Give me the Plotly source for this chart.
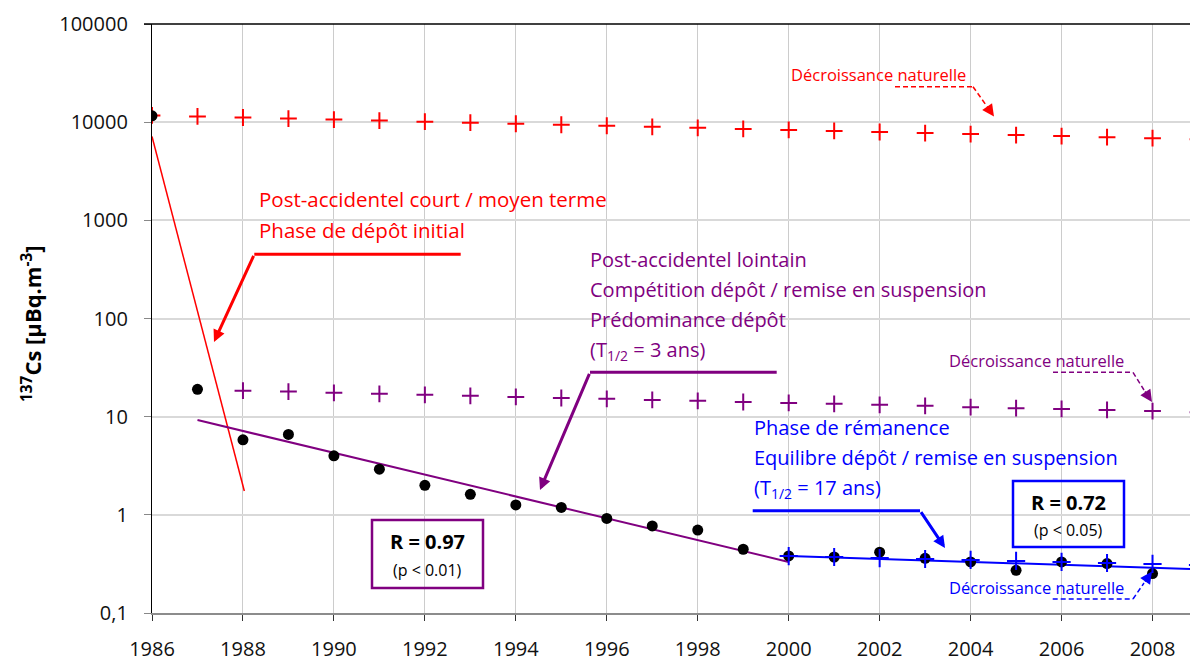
import plotly.graph_objects as go

# ---------------- data ----------------
years_meas = list(range(1986, 2010))
cs_meas = [11600, 19.0, 5.81, 6.6, 3.99, 2.92, 2.0, 1.62, 1.26, 1.19, 0.92, 0.77,
           0.70, 0.446, 0.381, 0.372, 0.416, 0.361, 0.331, 0.272, 0.331, 0.319,
           0.252, 0.324]

years_red_decay = list(range(1986, 2010))
red_decay = [11700, 11430, 11160, 10890, 10630, 10370, 10120, 9880, 9640, 9410,
             9190, 8970, 8750, 8540, 8340, 8140, 7940, 7750, 7570, 7380, 7210,
             7030, 6870, 6700]

years_purple_decay = list(range(1988, 2010))
purple_decay = [18.4, 18.0, 17.5, 17.1, 16.7, 16.3, 15.9, 15.5, 15.2, 14.8,
                14.5, 14.1, 13.8, 13.5, 13.2, 12.9, 12.5, 12.2, 12.0, 11.7, 11.4,
                11.1]

years_blue_decay = list(range(2000, 2010))
blue_decay = [0.380, 0.372, 0.363, 0.355, 0.347, 0.339, 0.331, 0.323, 0.316, 0.308]

red_fit_x = [1986, 1988.03]
red_fit_y = [7140, 1.75]
purple_fit_x = [1987, 2000]
purple_fit_y = [9.23, 0.331]
blue_fit_x = [2000, 2009]
blue_fit_y = [0.381, 0.279]

x_ticks = list(range(1986, 2009, 2))
y_ticks = [0.1, 1, 10, 100, 1000, 10000, 100000]
y_ticktext = ["0,1", "1", "10", "100", "1000", "10000", "100000"]

RED = "#ff0000"
PURPLE = "#800080"
BLUE = "#0000ff"
FONT = "Open Sans"

# ---------------- layout geometry ----------------
# The page body has an 8px margin, so the figure is drawn 8px right/down.
BODY = 8
WIDTH, HEIGHT = 1198 - BODY, 661 - BODY
SL, ST = 152, 24          # plot-area top-left on screen
W, H = 1046, 589          # plot-area size
L, T = SL - BODY, ST - BODY


def xp(px):
    return (px - SL) / W


def yp(py):
    return (ST + H - py) / H


fig = go.Figure()

# fit lines
fig.add_trace(go.Scatter(x=red_fit_x, y=red_fit_y, mode="lines",
                         line=dict(color=RED, width=1.5), hoverinfo="skip"))
fig.add_trace(go.Scatter(x=purple_fit_x, y=purple_fit_y, mode="lines",
                         line=dict(color=PURPLE, width=2), hoverinfo="skip"))
fig.add_trace(go.Scatter(x=blue_fit_x, y=blue_fit_y, mode="lines",
                         line=dict(color=BLUE, width=2), hoverinfo="skip"))

# decay crosses (red, purple)
fig.add_trace(go.Scatter(x=years_red_decay, y=red_decay, mode="markers",
                         marker=dict(symbol="cross-thin", size=12,
                                     line=dict(color=RED, width=2))))
fig.add_trace(go.Scatter(x=years_purple_decay, y=purple_decay, mode="markers",
                         marker=dict(symbol="cross-thin", size=12,
                                     line=dict(color=PURPLE, width=2))))
# measurements
fig.add_trace(go.Scatter(x=years_meas, y=cs_meas, mode="markers",
                         marker=dict(symbol="circle", size=11, color="black")))
# blue crosses on top
fig.add_trace(go.Scatter(x=years_blue_decay, y=blue_decay, mode="markers",
                         marker=dict(symbol="cross-thin", size=13,
                                     line=dict(color=BLUE, width=2))))

shapes = []
annotations = []


def seg(x0, y0, x1, y1, color, width, dash=None):
    d = dict(type="line", xref="paper", yref="paper",
             x0=xp(x0), x1=xp(x1), y0=yp(y0), y1=yp(y1),
             line=dict(color=color, width=width))
    if dash:
        d["line"]["dash"] = dash
    shapes.append(d)


def hline(x0, x1, y, color, width, dash=None):
    seg(x0, y, x1, y, color, width, dash)


def arrow(tailx, taily, tipx, tipy, color, width, size):
    annotations.append(dict(xref="paper", yref="paper", x=xp(tipx), y=yp(tipy),
                            ax=tailx - tipx, ay=taily - tipy,
                            axref="pixel", ayref="pixel", text="",
                            showarrow=True, arrowhead=2, arrowsize=size,
                            arrowwidth=width, arrowcolor=color, standoff=0,
                            startstandoff=0))


def text(px, py, s, color, size, anchor="left", yanchor="middle", bold=False):
    if bold:
        s = "<b>" + s + "</b>"
    annotations.append(dict(xref="paper", yref="paper", x=xp(px), y=yp(py),
                            text=s, showarrow=False, xanchor=anchor,
                            yanchor=yanchor,
                            font=dict(family=FONT, size=size, color=color)))


# top border line
shapes.append(dict(type="line", xref="paper", yref="paper", x0=xp(144), x1=1,
                   y0=1, y1=1, line=dict(color="black", width=1.5)))

# ---- red block ----
text(257, 183.5, "Post-accidentel court / moyen terme", RED, 20.5, yanchor="top")
text(257, 213.5, "Phase de dépôt initial", RED, 20.5, yanchor="top")
hline(254.3, 460.7, 254.3, RED, 3)
arrow(254.3, 254.3, 214, 342, RED, 3, 0.8)

# ---- purple block ----
text(588, 244, "Post-accidentel lointain", PURPLE, 20, yanchor="top")
text(588, 274, "Compétition dépôt / remise en suspension", PURPLE, 20, yanchor="top")
text(588, 304, "Prédominance dépôt", PURPLE, 20, yanchor="top")
text(588, 334, "(T<sub>1/2</sub> = 3 ans)", PURPLE, 20, yanchor="top")
hline(590, 776.7, 372.3, PURPLE, 3)
arrow(590, 372.3, 540, 490, PURPLE, 3, 0.8)

# ---- blue block ----
text(752, 411.5, "Phase de rémanence", BLUE, 20, yanchor="top")
text(752, 441.5, "Equilibre dépôt / remise en suspension", BLUE, 20, yanchor="top")
text(752, 472, "(T<sub>1/2</sub> = 17 ans)", BLUE, 20, yanchor="top")
hline(752.7, 920, 510.7, BLUE, 3)
arrow(920, 510.7, 945, 548, BLUE, 3, 0.8)

# ---- R boxes ----
shapes.append(dict(type="rect", xref="paper", yref="paper",
                   x0=xp(372), x1=xp(483), y0=yp(588), y1=yp(520),
                   line=dict(color=PURPLE, width=2.5)))
text(427.5, 541, "R = 0.97", "black", 20, anchor="center", bold=True)
text(427.5, 570, "(p &lt; 0.01)", "black", 16, anchor="center")

shapes.append(dict(type="rect", xref="paper", yref="paper",
                   x0=xp(1013), x1=xp(1124), y0=yp(547), y1=yp(481),
                   line=dict(color=BLUE, width=2.5)))
text(1068.5, 502, "R = 0.72", "black", 20, anchor="center", bold=True)
text(1068.5, 530, "(p &lt; 0.05)", "black", 16, anchor="center")

# ---- "Décroissance naturelle" labels ----
DASH = "5px,3px"
text(789, 74, "Décroissance naturelle", RED, 16.5)
hline(895, 973, 86.7, RED, 1.5, DASH)
seg(973, 86.7, 986, 105, RED, 1.5, DASH)
arrow(986, 105, 994, 116.5, RED, 1.5, 1.6)

text(947, 360.5, "Décroissance naturelle", PURPLE, 16.5)
hline(1053, 1133, 372.3, PURPLE, 1.5, DASH)
seg(1133, 372.3, 1144, 390, PURPLE, 1.5, DASH)
arrow(1144, 390, 1152, 402, PURPLE, 1.5, 1.6)

text(947, 587, "Décroissance naturelle", BLUE, 16.5)
hline(1052.7, 1133, 599, BLUE, 1.5, DASH)
seg(1133, 599, 1144, 583, BLUE, 1.5, DASH)
arrow(1144, 583, 1152, 571.5, BLUE, 1.5, 1.6)

# ---- y axis title ----
annotations.append(dict(xref="paper", yref="paper", x=xp(32), y=yp(324),
                        text="<b><sup>137</sup>Cs [µBq.m<sup>-3</sup>]</b>",
                        textangle=-90, showarrow=False, xanchor="center",
                        yanchor="middle",
                        font=dict(family=FONT, size=22, color="black")))

fig.update_layout(
    width=WIDTH, height=HEIGHT,
    margin=dict(l=L, r=WIDTH - L - W, t=T, b=HEIGHT - T - H, pad=0,
                autoexpand=False),
    paper_bgcolor="white", plot_bgcolor="white",
    showlegend=False,
    shapes=shapes, annotations=annotations,
    font=dict(family=FONT, color="black"),
)
fig.update_xaxes(range=[1986, 2009], tickvals=x_ticks, automargin=False,
                 showgrid=True, gridcolor="#cccccc", gridwidth=1,
                 zeroline=False, showline=True, linecolor="#8c8c8c", linewidth=2,
                 ticks="outside", ticklen=6, tickcolor="#333333", tickwidth=1,
                 tickfont=dict(family=FONT, size=20, color="#111111"),
                 ticklabelstandoff=11)
fig.update_yaxes(type="log", range=[-1, 5], tickvals=y_ticks, ticktext=y_ticktext,
                 automargin=False,
                 showgrid=True, gridcolor="#d9d9d9", gridwidth=1.5,
                 zeroline=False, showline=True, linecolor="black", linewidth=1.3,
                 ticks="outside", ticklen=7, tickcolor="#888888", tickwidth=1,
                 tickfont=dict(family=FONT, size=20, color="#111111"),
                 ticklabelstandoff=12)

fig.write_html("out.html")
